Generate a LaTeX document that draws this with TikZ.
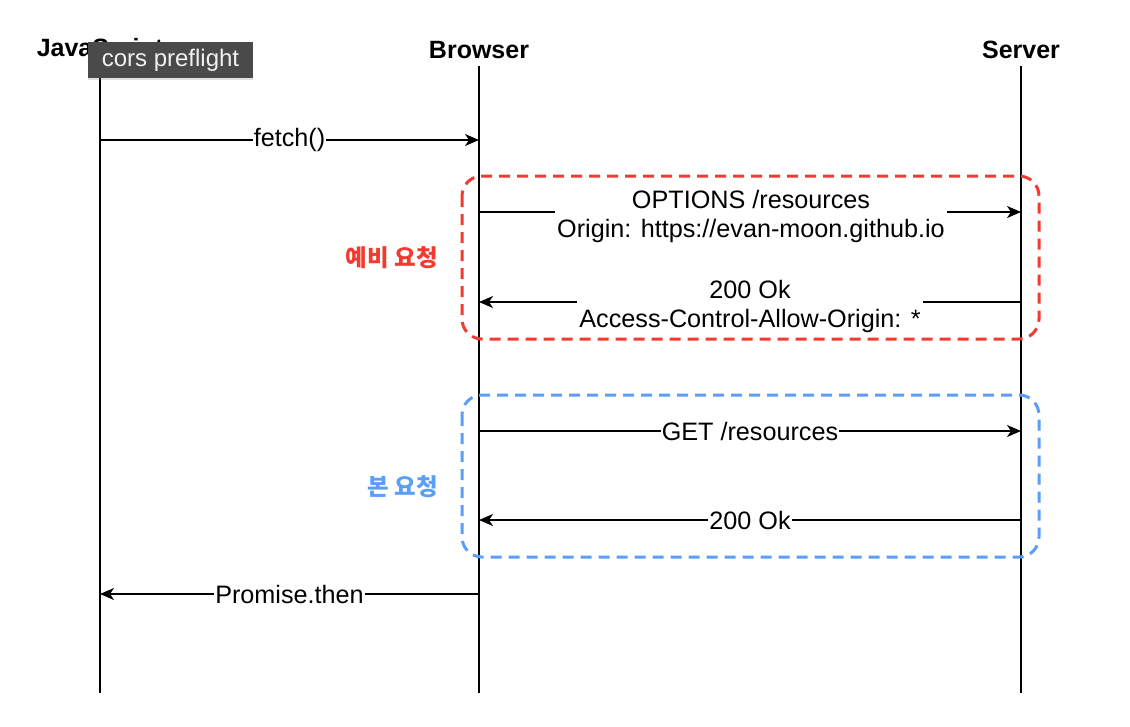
\documentclass[tikz,border=0pt]{standalone}
\usepackage{fontspec}
\setmainfont{Liberation Sans}
\newfontfamily\kr{Noto Sans CJK KR}
\usetikzlibrary{arrows.meta,shadows}
\definecolor{boxred}{HTML}{F23A2E}
\definecolor{boxblue}{HTML}{5A9EF8}
\definecolor{tipgray}{HTML}{4A4A4A}
\tikzset{
  head/.style={font=\fontsize{25}{29}\selectfont\bfseries, inner sep=0pt},
  life/.style={line width=1.5pt, black},
  msg/.style={line width=1.5pt, -{Stealth[length=14pt,width=12pt,inset=4pt]}},
  lbl/.style={fill=white, inner sep=1pt, font=\fontsize{25.2}{29}\selectfont, align=center},
  grp/.style={line width=3pt, dash pattern=on 11pt off 7pt, rounded corners=20pt},
  side/.style={font=\kr\bfseries\fontsize{23.5}{27}\selectfont, anchor=east, inner sep=0pt},
  tip/.style={fill=tipgray, text=white!94!black, minimum width=165pt, minimum height=36pt,
    inner sep=0pt, font=\fontsize{24}{28}\selectfont,
    drop shadow={shadow xshift=0pt, shadow yshift=-2pt, opacity=0.25}}
}
\begin{document}
\begin{tikzpicture}[x=1pt,y=-1pt]
\useasboundingbox (0,0) rectangle (1130,726);
% headers
\node[head] (jsh) at (100,50) {JavaScript};
\node[head] (brh) at (479,50) {Browser};
\node[head] (svh) at (1021,50) {Server};
% lifeline ends
\coordinate (jsT) at (100,66); \coordinate (jsB) at (100,693);
\coordinate (brT) at (479,66); \coordinate (brB) at (479,693);
\coordinate (svT) at (1021,66); \coordinate (svB) at (1021,693);
\draw[life] (jsT) -- (jsB);
\draw[life] (brT) -- (brB);
\draw[life] (svT) -- (svB);
% group boxes
\draw[grp, boxred] (462,176) rectangle (1039,339);
\draw[grp, boxblue] (462,395) rectangle (1039,557);
\node[side, text=boxred] (pre) at (438,258) {예비 요청};
\node[side, text=boxblue] (main) at (438,487) {본 요청};
% message anchors
\coordinate (js1) at (100,140); \coordinate (br1) at (479,140);
\coordinate (br2) at (479,212); \coordinate (sv2) at (1021,212);
\coordinate (sv3) at (1021,302); \coordinate (br3) at (479,302);
\coordinate (br4) at (479,431); \coordinate (sv4) at (1021,431);
\coordinate (sv5) at (1021,520); \coordinate (br5) at (479,520);
\coordinate (br6) at (479,594); \coordinate (js6) at (100,594);
% messages
\draw[msg] (js1) -- (br1) node[lbl, pos=0.5] (l1) {fetch()};
\draw[msg] (br2) -- (sv2);
\node[lbl, inner sep=2pt] (l2) at (751,216) {OPTIONS /resources\\Origin: https://evan-moon.github.io};
\draw[msg] (sv3) -- (br3);
\node[lbl, inner sep=2pt] (l3) at (750,306) {200 Ok\\Access-Control-Allow-Origin: *};
\draw[msg] (br4) -- (sv4) node[lbl, pos=0.5] (l4) {GET /resources};
\draw[msg] (sv5) -- (br5) node[lbl, pos=0.5] (l5) {200 Ok};
\draw[msg] (br6) -- (js6) node[lbl, pos=0.5] (l6) {Promise.then};
% tooltip
\node[tip] (tt) at (170.5,60) {cors preflight};
\end{tikzpicture}
\end{document}
